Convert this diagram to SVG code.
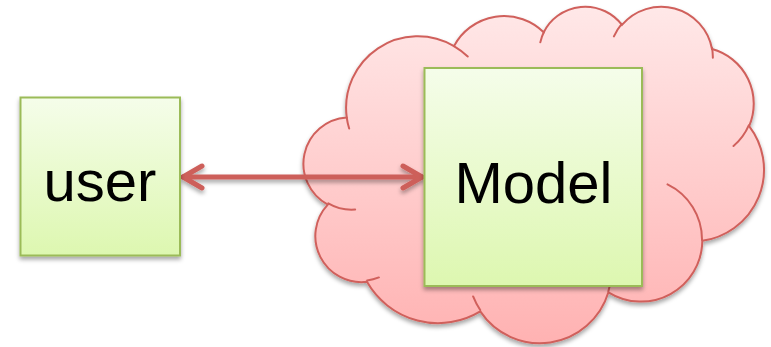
<svg xmlns="http://www.w3.org/2000/svg" width="771" height="347" viewBox="0 0 771 347">
  <style>
    .box { stroke: #9BBB59; stroke-width: 2; fill: url(#boxFill); }
    .label { font-family: "Liberation Sans", Arial, sans-serif; font-size: 58px; fill: #000; text-anchor: middle; }
    .cloud-edge { stroke: #D0605B; stroke-width: 2; vector-effect: non-scaling-stroke; stroke-linecap: round; }
    .link { stroke: #CD5F5A; stroke-width: 5; fill: none; stroke-linecap: round; stroke-linejoin: round; }
  </style>
  <defs>
    <linearGradient id="boxFill" x1="0" y1="0" x2="0" y2="1">
      <stop offset="0" stop-color="#F5FDEA"/>
      <stop offset="1" stop-color="#DDF7B0"/>
    </linearGradient>
    <linearGradient id="cloudFill" x1="0" y1="0" x2="0" y2="1">
      <stop offset="0" stop-color="#FFE8E8"/>
      <stop offset="1" stop-color="#FFB2B2"/>
    </linearGradient>
    <filter id="shadow" x="-10%" y="-10%" width="120%" height="125%">
      <feDropShadow dx="0" dy="3" stdDeviation="2.2" flood-color="#000" flood-opacity="0.35"/>
    </filter>
    <!-- user-space region so a flat horizontal line still gets its shadow -->
    <filter id="lineShadow" filterUnits="userSpaceOnUse" x="0" y="0" width="771" height="347">
      <feDropShadow dx="0" dy="3" stdDeviation="2.2" flood-color="#000" flood-opacity="0.35"/>
    </filter>
    <marker id="chevron" markerUnits="userSpaceOnUse" markerWidth="40" markerHeight="40" viewBox="-30 -20 40 40" refX="0" refY="0" orient="auto-start-reverse" overflow="visible">
      <path d="M-19,-11 L0,0 L-19,11" class="link"/>
    </marker>
  </defs>

  <!-- cloud (preset cloud outline in a 43200-unit frame) -->
  <g id="cloud" filter="url(#shadow)">
    <g transform="translate(305.37 5.59) scale(0.010611 0.0077888)">
      <path class="cloud-edge" fill="url(#cloudFill)" d="M 3900 14370
        A 6753 9190 0 0 1 14005.6 5202.2
        A 5333 7267 0 0 1 22458.4 3433.1
        A 4365 5945 0 0 1 29836.5 2483.7
        A 4857 6595 0 0 1 38322.1 5578.2
        A 5333 7273 0 0 1 41822.5 15462.1
        A 6775 9220 0 0 1 37407.2 30202.8
        A 5785 7867 0 0 1 28558.5 36812.8
        A 6752 9215 0 0 1 16483.2 39264.7
        A 7720 10543 0 0 1 5806.5 35470.3
        A 4360 5918 0 0 1 2114.9 25548.9
        A 4345 5945 0 0 1 3900 14370 Z"/>
      <path class="cloud-edge" fill="none" d="M 4693 26177 A 4345 5945 0 0 1 2160 25380.2
        M 6928 34899 A 4360 5918 0 0 1 5819.6 35280.5
        M 16478 39090 A 6752 9215 0 0 1 15809.3 37347.8
        M 28827 34751 A 6752 9215 0 0 1 28560.4 36660
        M 34129 22954 A 5785 7867 0 0 1 37380.4 30089.5
        M 41798 15354 A 5333 7273 0 0 1 40349.1 18030.9
        M 38324 5426 A 4857 6595 0 0 1 38400.4 6689.9
        M 29078 3952 A 4857 6595 0 0 1 29819.5 2340.3
        M 22141 4720 A 4365 5945 0 0 1 22500.2 3329.9
        M 14000 5192 A 6753 9190 0 0 1 15301.3 6542.9
        M 4127 15789 A 6753 9190 0 0 1 3900.5 14371.3"/>
    </g>
  </g>

  <!-- connectors -->
  <g id="connectors" filter="url(#lineShadow)">
    <path class="link" d="M 183 177 H 422" marker-start="url(#chevron)" marker-end="url(#chevron)"/>
  </g>

  <g id="user" filter="url(#shadow)">
    <rect class="box" x="20.5" y="97.5" width="159.5" height="158"/>
    <text class="label" x="100" y="201">user</text>
  </g>

  <g id="model" filter="url(#shadow)">
    <rect class="box" x="424.5" y="68" width="217.5" height="218"/>
    <text class="label" x="533.5" y="203">Model</text>
  </g>
</svg>
